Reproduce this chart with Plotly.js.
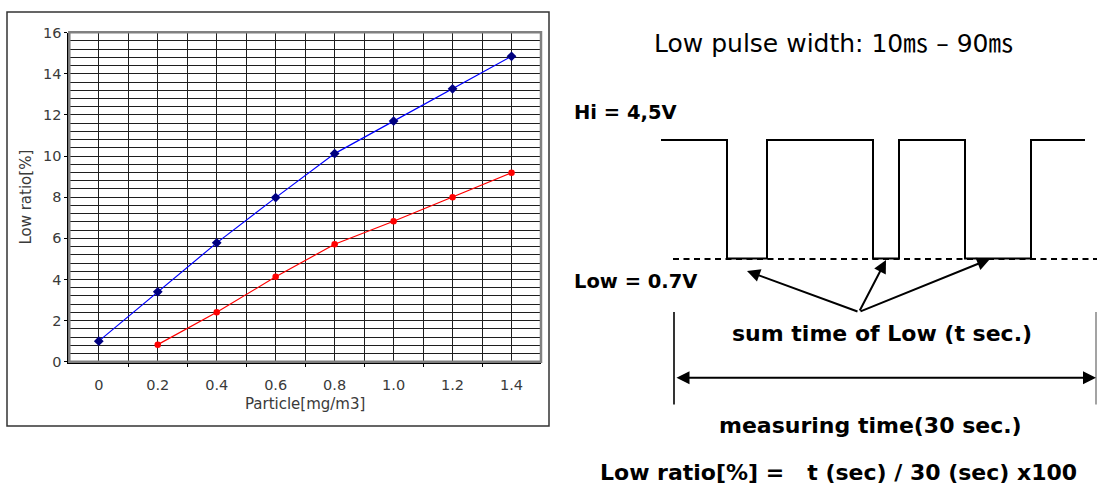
<!DOCTYPE html>
<html>
<head>
<meta charset="utf-8">
<script src="https://cdn.plot.ly/plotly-3.0.1.min.js"></script>
<style>html,body{margin:0;padding:0;background:#fff;}#chart{width:1097px;height:485px;}</style>
</head>
<body>
<div id="chart"></div>
<script>
// ---- data ----
const particleA = [0, 0.2, 0.4, 0.6, 0.8, 1.0, 1.2, 1.4];
const lowRatioA = [1.0, 3.4, 5.78, 7.98, 10.12, 11.7, 13.27, 14.85];
const particleB = [0.2, 0.4, 0.6, 0.8, 1.0, 1.2, 1.4];
const lowRatioB = [0.83, 2.4, 4.13, 5.71, 6.83, 8.0, 9.19];
const xTickVals = [0, 0.2, 0.4, 0.6, 0.8, 1.0, 1.2, 1.4];
const xTickText = ['0', '0.2', '0.4', '0.6', '0.8', '1.0', '1.2', '1.4'];

// ---- diagram geometry (pixel units of the 1097x485 canvas) ----
const W = 1097, H = 485;
const px = x => x / W;
const py = y => 1 - y / H;
const pulseEdges = [661, 727, 767, 873, 899, 965, 1031, 1085];
const hiLevel = 140, loLevel = 258.5;

// waveform path
let path = '';
let level = hiLevel;
pulseEdges.forEach((e, i) => {
  if (i === 0) { path += 'M' + px(e) + ',' + py(level); return; }
  path += ' L' + px(e) + ',' + py(level);
  if (i < pulseEdges.length - 1) {
    level = (level === hiLevel) ? loLevel : hiLevel;
    path += ' L' + px(e) + ',' + py(level);
  }
});

const minorX = [];
for (let k = 0; k < 7; k++) minorX.push(+(0.1 + 0.2 * k).toFixed(1));

const tickFont = {family: 'DejaVu Sans, Arial, sans-serif', size: 14.5, color: '#3a3a3a'};
const titleFont = {family: 'DejaVu Sans, Arial, sans-serif', size: 15, color: '#3a3a3a'};
const boldFont = {family: 'DejaVu Sans, Noto Sans CJK KR, sans-serif', size: 22, color: '#000'};

const traces = [
  {x: particleA, y: lowRatioA, type: 'scatter', mode: 'lines+markers',
   line: {color: '#0000ff', width: 1.2},
   marker: {color: '#000080', symbol: 'diamond', size: 7.5}, showlegend: false, hoverinfo: 'x+y'},
  {x: particleB, y: lowRatioB, type: 'scatter', mode: 'lines+markers',
   line: {color: '#ff0000', width: 1.2},
   marker: {color: '#ff0000', symbol: 'circle', size: 6.5}, showlegend: false, hoverinfo: 'x+y'}
];

const shapes = [
  // outer chart frame
  {type: 'rect', xref: 'paper', yref: 'paper', x0: px(7), x1: px(549), y0: py(12), y1: py(426),
   line: {color: '#333', width: 1.5}, fillcolor: 'rgba(0,0,0,0)', layer: 'below'},
  // plot area border (grey top/right)
  {type: 'rect', xref: 'paper', yref: 'paper', x0: px(69.3), x1: px(541), y0: py(361.7), y1: py(32.2),
   line: {color: '#808080', width: 2.5}, fillcolor: 'rgba(0,0,0,0)', layer: 'above'},
  // waveform
  {type: 'path', xref: 'paper', yref: 'paper', path: path, line: {color: '#000', width: 2}},
  // dashed low level line
  {type: 'line', xref: 'paper', yref: 'paper', x0: px(673), x1: px(1097), y0: py(259), y1: py(259),
   line: {color: '#000', width: 2, dash: '6px,4.5px'}},
  // measuring time limit lines
  {type: 'line', xref: 'paper', yref: 'paper', x0: px(674), x1: px(674), y0: py(312), y1: py(404.5),
   line: {color: '#000', width: 1.6}},
  {type: 'line', xref: 'paper', yref: 'paper', x0: px(1096), x1: px(1096), y0: py(312), y1: py(404.5),
   line: {color: '#666', width: 1.2}}
];

const tail = {x: 859, y: 312};
const tips = [{x: 747, y: 271}, {x: 886, y: 260}, {x: 990, y: 259}];

const annotations = [
  {xref: 'paper', yref: 'paper', x: px(834), y: py(43), xanchor: 'center', yanchor: 'middle', showarrow: false,
   text: 'Low pulse width: 10\u33B3 \u2013 90\u33B3',
   font: {family: 'DejaVu Sans, Noto Sans CJK KR, sans-serif', size: 25, color: '#000'}},
  {xref: 'paper', yref: 'paper', x: px(572), y: py(112), xanchor: 'left', yanchor: 'middle', showarrow: false,
   text: '<b>Hi = 4,5V</b>', font: Object.assign({}, boldFont, {size: 19.5})},
  {xref: 'paper', yref: 'paper', x: px(572), y: py(281), xanchor: 'left', yanchor: 'middle', showarrow: false,
   text: '<b>Low = 0.7V</b>', font: Object.assign({}, boldFont, {size: 19.5})},
  {xref: 'paper', yref: 'paper', x: px(882), y: py(333), xanchor: 'center', yanchor: 'middle', showarrow: false,
   text: '<b>sum time of Low (t sec.)</b>', font: boldFont},
  {xref: 'paper', yref: 'paper', x: px(870), y: py(425), xanchor: 'center', yanchor: 'middle', showarrow: false,
   text: '<b>measuring time(30 sec.)</b>', font: boldFont},
  {xref: 'paper', yref: 'paper', x: px(838), y: py(472), xanchor: 'center', yanchor: 'middle', showarrow: false,
   text: '<b>Low ratio[%] =\u00a0\u00a0\u00a0t (sec) / 30 (sec) x100</b>', font: boldFont},
  // double arrow for measuring time
  {xref: 'paper', yref: 'paper', x: px(1096), y: py(377.7), ax: 675 - 1096, ay: 0, text: '',
   showarrow: true, arrowhead: 2, startarrowhead: 2, arrowside: 'end+start', arrowsize: 1.3, startarrowsize: 1.3,
   arrowwidth: 2, arrowcolor: '#000', standoff: 0, startstandoff: 0}
];
tips.forEach(t => {
  annotations.push({xref: 'paper', yref: 'paper', x: px(t.x), y: py(t.y), ax: tail.x - t.x, ay: tail.y - t.y,
    text: '', showarrow: true, arrowhead: 2, arrowsize: 1.3, arrowwidth: 2, arrowcolor: '#000',
    standoff: 0, startstandoff: 0});
});

const layout = {
  width: W, height: H,
  margin: {l: 0, r: 0, t: 0, b: 0},
  paper_bgcolor: '#fff', plot_bgcolor: 'rgba(0,0,0,0)',
  showlegend: false,
  xaxis: {
    domain: [px(69.3), px(541)], range: [-0.1, 1.5], fixedrange: true,
    tickmode: 'array', tickvals: xTickVals, ticktext: xTickText,
    ticks: '', ticklabelstandoff: 9,
    showgrid: true, gridcolor: '#1e1e1e', gridwidth: 1,
    showline: true, linecolor: '#000', linewidth: 2, zeroline: false,
    tickfont: tickFont,
    minor: {tickmode: 'array', tickvals: minorX, ticks: 'outside', ticklen: 3, tickcolor: '#000',
            showgrid: true, gridcolor: '#1e1e1e', gridwidth: 1},
    title: {text: 'Particle[mg/m3]', font: titleFont, standoff: 6}
  },
  yaxis: {
    domain: [py(361.7), py(32.7)], range: [0, 16], fixedrange: true,
    tickmode: 'linear', tick0: 0, dtick: 2,
    ticks: 'outside', ticklen: 3, tickcolor: '#000',
    showgrid: true, gridcolor: '#1e1e1e', gridwidth: 1,
    showline: true, linecolor: '#000', linewidth: 2, zeroline: false,
    tickfont: tickFont,
    minor: {dtick: 0.4, tick0: 0, showgrid: true, gridcolor: '#1e1e1e', gridwidth: 1},
    title: {text: 'Low ratio[%]', font: titleFont, standoff: 8}
  },
  shapes: shapes,
  annotations: annotations
};

Plotly.newPlot('chart', traces, layout, {displayModeBar: false, staticPlot: true});
</script>
</body>
</html>
